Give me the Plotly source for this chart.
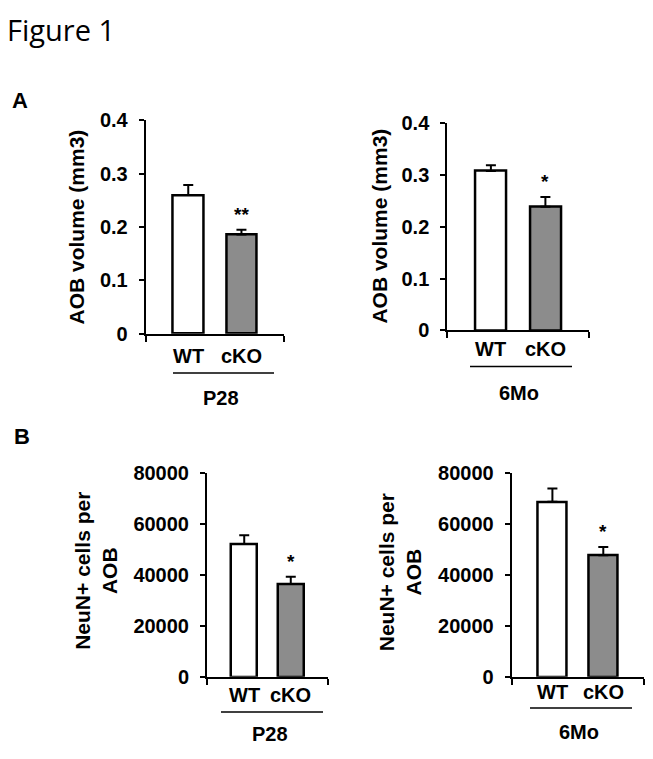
import plotly.graph_objects as go

# ---- data ----
groups = ["WT", "cKO"]
group_pos = [0, 1]
bar_colors = ["white", "#8c8c8c"]

aob_p28 = [0.26, 0.186]
aob_p28_err = [0.019, 0.009]
aob_6mo = [0.307, 0.238]
aob_6mo_err = [0.011, 0.019]

neun_p28 = [52150, 36500]
neun_p28_err = [3450, 2800]
neun_6mo = [68800, 47800]
neun_6mo_err = [5200, 3200]

sig_p28_aob = "**"
sig_6mo_aob = "*"
sig_p28_neun = "*"
sig_6mo_neun = "*"

W, H = 653, 759
FONT = "Arial, Liberation Sans, sans-serif"

def px(x):
    return x / W

def py(y):
    return 1 - y / H

panels = [
    dict(v=aob_p28, e=aob_p28_err, s=sig_p28_aob, xd=(145.7, 284), yd=(112.7, 332.3), yr=[0, 0.4], dt=0.1,
         fs=20, ly=355, grp="P28", ul=(173, 274, 372.7), gy=399, title="AOB volume (mm3)", tx=77, ty=223),
    dict(v=aob_6mo, e=aob_6mo_err, s=sig_6mo_aob, xd=(447.3, 589), yd=(115, 329), yr=[0, 0.4], dt=0.1,
         fs=20, ly=348, grp="6Mo", ul=(470, 572, 366), gy=393, title="AOB volume (mm3)", tx=380, ty=222),
    dict(v=neun_p28, e=neun_p28_err, s=sig_p28_neun, xd=(207, 328), yd=(476, 685.7), yr=[0, 80000], dt=20000,
         fs=20, ly=704, grp="P28", ul=(221, 323, 722), gy=745, title="NeuN+ cells per<br>AOB", tx=96.5, ty=576),
    dict(v=neun_6mo, e=neun_6mo_err, s=sig_6mo_neun, xd=(511.7, 644), yd=(476, 685.7), yr=[0, 80000], dt=20000,
         fs=20, ly=701.5, grp="6Mo", ul=(530, 632, 717.7), gy=743, title="NeuN+ cells per<br>AOB", tx=400, ty=578),
]

fig = go.Figure()
annotations = []
shapes = []
layout_axes = {}

for i, p in enumerate(panels, start=1):
    xa = "x" if i == 1 else f"x{i}"
    ya = "y" if i == 1 else f"y{i}"
    fig.add_trace(go.Bar(
        x=group_pos, y=p["v"], width=0.57,
        marker=dict(color=bar_colors, line=dict(color="black", width=2.5)),
        error_y=dict(type="data", symmetric=False, array=p["e"], arrayminus=[0, 0],
                     color="black", thickness=2, width=5),
        xaxis=xa, yaxis=ya, showlegend=False, hoverinfo="skip",
    ))
    xkey = "xaxis" if i == 1 else f"xaxis{i}"
    ykey = "yaxis" if i == 1 else f"yaxis{i}"
    layout_axes[xkey] = dict(
        domain=[px(p["xd"][0]), px(p["xd"][1])], anchor=ya, range=[-0.8, 1.8],
        showline=True, linecolor="black", linewidth=2, showgrid=False, zeroline=False,
        tickvals=group_pos, ticks="", showticklabels=False,
        minor=dict(tickvals=[-0.8, 1.8], ticks="outside", ticklen=6, tickwidth=2, tickcolor="black"),
        fixedrange=True,
    )
    layout_axes[ykey] = dict(
        domain=[py(p["yd"][1]), py(p["yd"][0])], anchor=xa, range=p["yr"], dtick=p["dt"], tick0=0,
        showline=True, linecolor="black", linewidth=2, showgrid=False, zeroline=False,
        ticks="outside", ticklen=5, tickwidth=2, tickcolor="black", ticklabelstandoff=7,
        tickformat="d" if p["yr"][1] > 1 else None,
        tickfont=dict(family=FONT, size=p["fs"], color="black", weight="bold"),
        fixedrange=True,
    )
    # category labels under the bars
    for gx, gname in zip(group_pos, groups):
        annotations.append(dict(
            x=gx, y=py(p["ly"]), xref=xa, yref="paper", text=gname, showarrow=False,
            xanchor="center", yanchor="middle",
            font=dict(family=FONT, size=p["fs"], color="black", weight="bold"),
        ))
    annotations.append(dict(
        x=1, y=p["v"][1] + p["e"][1], xref=xa, yref=ya, text=p["s"], showarrow=False,
        yanchor="bottom", yshift=3, font=dict(family=FONT, size=19, color="black", weight="bold"),
    ))
    shapes.append(dict(type="line", xref="paper", yref="paper",
                       x0=px(p["ul"][0]), x1=px(p["ul"][1]), y0=py(p["ul"][2]), y1=py(p["ul"][2]),
                       line=dict(color="black", width=1.5)))
    annotations.append(dict(
        x=px((p["ul"][0] + p["ul"][1]) / 2 - 2), y=py(p["gy"]), xref="paper", yref="paper",
        text=p["grp"], showarrow=False, xanchor="center", yanchor="middle",
        font=dict(family=FONT, size=20, color="black", weight="bold"),
    ))
    annotations.append(dict(
        x=px(p["tx"]), y=py(p["ty"]), xref="paper", yref="paper", text=p["title"], showarrow=False,
        textangle=-90, xanchor="center", yanchor="middle",
        font=dict(family=FONT, size=21, color="black", weight="bold"),
    ))

annotations.append(dict(x=px(5), y=py(19), xref="paper", yref="paper", text="Figure 1", showarrow=False,
                        xanchor="left", yanchor="middle",
                        font=dict(family="Open Sans, sans-serif", size=29, color="black")))
annotations.append(dict(x=px(20.5), y=py(92), xref="paper", yref="paper", text="A", showarrow=False,
                        xanchor="center", yanchor="middle",
                        font=dict(family=FONT, size=22, color="black", weight="bold")))
annotations.append(dict(x=px(21.5), y=py(438), xref="paper", yref="paper", text="B", showarrow=False,
                        xanchor="center", yanchor="middle",
                        font=dict(family=FONT, size=22, color="black", weight="bold")))

fig.update_layout(
    width=W, height=H, margin=dict(l=0, r=0, t=0, b=0),
    paper_bgcolor="white", plot_bgcolor="white",
    bargap=0, annotations=annotations, shapes=shapes,
    **layout_axes,
)

fig.write_html(
    "out.html", include_plotlyjs=True, config={"displayModeBar": False},
    post_script="document.body.style.margin='0';document.body.style.overflow='hidden';"
                "document.documentElement.style.overflow='hidden';",
)
